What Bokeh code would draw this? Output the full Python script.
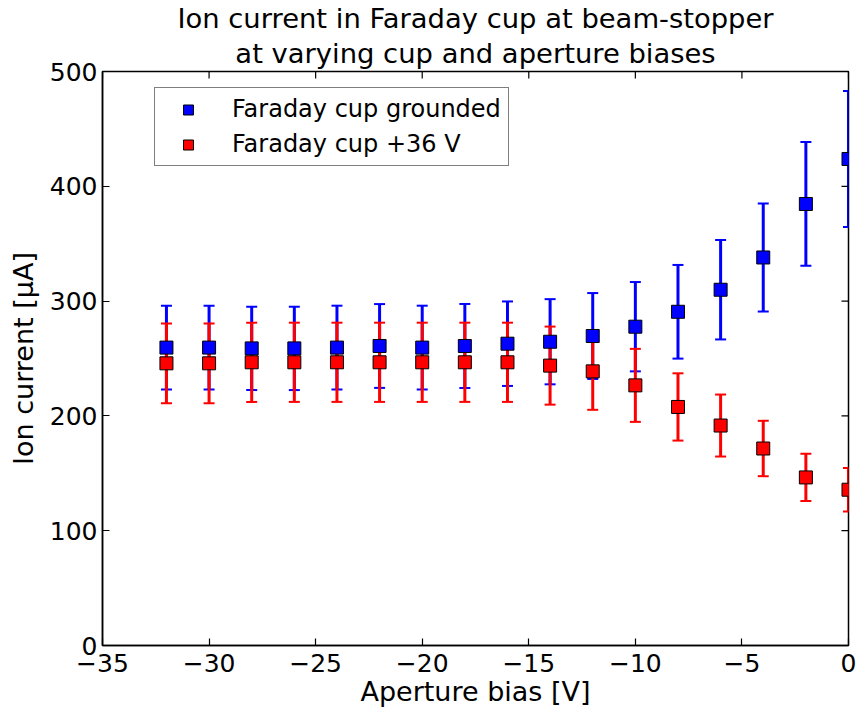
import math
from bokeh.plotting import figure
from bokeh.models import (ColumnDataSource, Whisker, TeeHead, Legend, LegendItem,
                          FixedTicker, Title, Range1d, CustomJSTickFormatter)
from bokeh.embed import file_html
from bokeh.resources import INLINE

# ---- data ----
bias = [-32, -30, -28, -26, -24, -22, -20, -18, -16, -14, -12, -10, -8, -6, -4, -2, 0]
grounded = [259.5, 259.5, 258.8, 258.8, 259.5, 260.9, 259.5, 260.9, 262.9, 264.6,
            269.6, 277.7, 290.7, 309.9, 338.0, 384.6, 423.8]
grounded_err = [36.5, 36.5, 36.3, 36.3, 36.5, 36.5, 36.5, 36.6, 36.8, 37.1,
                37.4, 38.9, 40.8, 43.3, 47.1, 53.9, 59.3]
biased = [245.8, 245.8, 246.7, 246.7, 246.7, 246.7, 246.7, 246.7, 246.7, 243.8,
          238.8, 226.6, 207.8, 191.6, 171.6, 146.4, 135.7]
biased_err = [34.7, 34.7, 34.5, 34.5, 34.5, 34.5, 34.5, 34.5, 34.5, 34.0,
              33.5, 31.8, 29.3, 27.0, 24.1, 20.6, 19.0]
series_labels = ["Faraday cup grounded", "Faraday cup +36 V"]
x_ticks = [-35, -30, -25, -20, -15, -10, -5, 0]
y_ticks = [0, 100, 200, 300, 400, 500]
title_lines = ["Ion current in Faraday cup at beam-stopper",
               "at varying cup and aperture biases"]
x_label = "Aperture bias [V]"
y_label = "Ion current [\u03bcA]"

FONT = "DejaVu Sans"

p = figure(width=860, height=715,
           x_range=Range1d(x_ticks[0], x_ticks[-1]), y_range=Range1d(y_ticks[0], y_ticks[-1]),
           output_backend="svg", toolbar_location=None, title=None,
           min_border_left=102, min_border_right=12, min_border_top=70, min_border_bottom=70)

p.xgrid.visible = False
p.ygrid.visible = False
p.outline_line_color = "black"
p.outline_line_width = 1.5
p.background_fill_color = "white"
p.border_fill_color = "white"

fmt = CustomJSTickFormatter(code="return tick < 0 ? '\\u2212' + Math.abs(tick) : tick.toString();")

p.xaxis.ticker = FixedTicker(ticks=x_ticks)
p.yaxis.ticker = FixedTicker(ticks=y_ticks)
p.xaxis.formatter = fmt
p.xaxis.axis_label = x_label
p.yaxis.axis_label = y_label

for ax in p.xaxis + p.yaxis:
    ax.major_tick_in = 7
    ax.major_tick_out = 0
    ax.minor_tick_line_color = None
    ax.axis_line_width = 1.5
    ax.axis_line_color = "black"
    ax.major_tick_line_width = 1.2
    ax.major_label_text_font = FONT
    ax.major_label_text_font_size = "25px"
    ax.major_label_text_color = "black"
    ax.axis_label_text_font = FONT
    ax.axis_label_text_font_size = "27px"
    ax.axis_label_text_font_style = "normal"
    ax.axis_label_text_color = "black"

p.xaxis.major_label_standoff = 8
p.xaxis.axis_label_standoff = 1
p.yaxis.major_label_standoff = 5
p.yaxis.axis_label_standoff = 8

# mirrored inner tick marks on the top and right frame edges
p.scatter(x=x_ticks, y=[y_ticks[-1]] * len(x_ticks), marker="dash", angle=math.pi / 2,
          size=14, line_color="black", line_width=1.2)
p.scatter(x=[x_ticks[-1]] * len(y_ticks), y=y_ticks, marker="dash",
          size=14, line_color="black", line_width=1.2)

# two-line title (second line first so the first line sits on top)
p.add_layout(Title(text=title_lines[1], align="center", text_font=FONT, text_font_size="27.4px",
                   text_font_style="normal", text_color="black", text_line_height=0.9,
                   standoff=5, offset=0), "above")
p.add_layout(Title(text=title_lines[0], align="center", text_font=FONT, text_font_size="27.4px",
                   text_font_style="normal", text_color="black", text_line_height=0.9,
                   standoff=0, offset=0), "above")

src_g = ColumnDataSource(dict(x=bias, y=grounded,
                              lo=[v - e for v, e in zip(grounded, grounded_err)],
                              hi=[v + e for v, e in zip(grounded, grounded_err)]))
src_b = ColumnDataSource(dict(x=bias, y=biased,
                              lo=[v - e for v, e in zip(biased, biased_err)],
                              hi=[v + e for v, e in zip(biased, biased_err)]))

for src, col in ((src_g, "#0000ff"), (src_b, "#ff0000")):
    w = Whisker(source=src, base="x", upper="hi", lower="lo", line_color=col, line_width=3,
                upper_head=TeeHead(size=11, line_color=col, line_width=2),
                lower_head=TeeHead(size=11, line_color=col, line_width=2))
    p.add_layout(w)

r_g = p.scatter("x", "y", source=src_g, marker="square", size=13,
                fill_color="#0000ff", line_color="black", line_width=1)
r_b = p.scatter("x", "y", source=src_b, marker="square", size=13,
                fill_color="#ff0000", line_color="black", line_width=1)

legend = Legend(items=[LegendItem(label=series_labels[0], renderers=[r_g]),
                       LegendItem(label=series_labels[1], renderers=[r_b])],
                location=(52, 479), label_text_font=FONT, label_text_font_size="24px",
                label_text_color="black",
                glyph_width=52, glyph_height=25, label_height=25, label_standoff=18,
                padding=7, spacing=7, margin=0,
                border_line_color="black", border_line_width=1.2,
                background_fill_color="white", background_fill_alpha=1.0)
p.add_layout(legend)

open("out.html", "w").write(file_html(p, INLINE))
